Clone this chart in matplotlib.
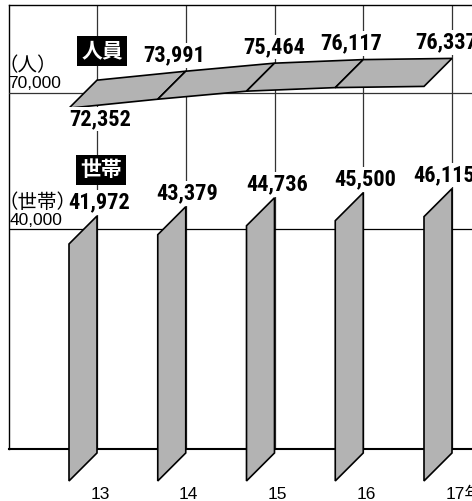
import numpy as np
import matplotlib
matplotlib.use("Agg")
import matplotlib.pyplot as plt
from matplotlib import font_manager as fm
from matplotlib.patches import Polygon

# Data
years = [13, 14, 15, 16, 17]
year_labels = ["13", "14", "15", "16", "17年"]
people = [72352, 73991, 75464, 76117, 76337]
households = [41972, 43379, 44736, 45500, 46115]

# label nudges (px), not data
people_dx = [3, -12, 0, -12, -6]
households_dx = [2, 1, 2.5, 2, -8]

# Figure / frame geometry (pixels, top-left origin)
W, H = 472, 501
L, T, R, B = 9, 5, 500, 449
PX_PER_YEAR = 88.75
X0_PX = 97          # pixel column of the first year
DEPTH = 28          # pseudo-3D depth of bars and band, px
GRAY = "#b3b3b3"
GRID = "#333333"

plt.rcParams["font.family"] = ["Liberation Sans", "Noto Sans CJK JP"]
CJK = ["Noto Sans CJK JP", "DejaVu Sans"]

# narrow bold face for the numbers, whatever is installed
names = {f.name for f in fm.fontManager.ttflist}
if "Liberation Sans Narrow" in names:
    VAL_FONT = dict(family="Liberation Sans Narrow", weight="bold", size=17)
elif "Roboto Condensed" in names:
    VAL_FONT = dict(family="Roboto Condensed", weight="bold", size=16)
else:
    VAL_FONT = dict(family="Roboto", weight="bold", size=14.5)

fig = plt.figure(figsize=(W / 100, H / 100), dpi=100)
ax = fig.add_axes([L / W, (H - B) / H, (R - L) / W, (B - T) / H])
ax_p = ax.twinx()

ax.set_xlim(years[0] - (X0_PX - L) / PX_PER_YEAR, years[0] + (R - X0_PX) / PX_PER_YEAR)


def ylim_for(ref_val, ref_px, px_per_k):
    top = ref_val + (ref_px - T) / px_per_k * 1000
    bot = ref_val - (B - ref_px) / px_per_k * 1000
    return bot, top


ax.set_ylim(*ylim_for(40000, 229, 6.6))     # households
ax_p.set_ylim(*ylim_for(70000, 93, 5.46))   # people

for a in (ax, ax_p):
    a.set_xticks([])
    a.set_yticks([])
    for s in a.spines.values():
        s.set_visible(False)
for side in ("left", "top", "bottom"):
    ax.spines[side].set_visible(True)
    ax.spines[side].set_color("black")
ax.spines["left"].set_linewidth(1.0)
ax.spines["top"].set_linewidth(1.0)
ax.spines["bottom"].set_linewidth(1.5)

# grid
for x in years:
    ax.axvline(x, color=GRID, lw=0.9, zorder=1)
ax.axhline(40000, color="black", lw=0.9, zorder=1)
ax_p.axhline(70000, color=GRID, lw=0.9, zorder=1)


def shifted(a, xs, ys):
    pts = a.transData.transform(np.column_stack([xs, ys]))
    pts[:, 0] -= DEPTH
    pts[:, 1] -= DEPTH
    return a.transData.inverted().transform(pts)


# people: slanted band
for i in range(len(years) - 1):
    top = np.array([[years[i], people[i]], [years[i + 1], people[i + 1]]], dtype=float)
    low = shifted(ax_p, top[:, 0], top[:, 1])
    ax_p.add_patch(Polygon(np.vstack([top, low[::-1]]), closed=True, fc=GRAY,
                           ec="black", lw=1.2, zorder=3))

# households: slanted bars
bar_base = ax.get_ylim()[0] - 600
for x, v in zip(years, households):
    right = np.array([[x, v], [x, bar_base]], dtype=float)
    left = shifted(ax, right[:, 0], right[:, 1])
    ax.add_patch(Polygon(np.vstack([right, left[::-1]]), closed=True, fc=GRAY,
                         ec="black", lw=1.2, zorder=3, clip_on=False))

# value labels
box = dict(fc="white", ec="none", pad=1)
for i, (x, v) in enumerate(zip(years, people)):
    off = (people_dx[i], -39 if i == 0 else 16)
    ax_p.annotate(f"{v:,}", (x, v), xytext=off, textcoords="offset pixels",
                  ha="center", va="center", bbox=box, zorder=6, **VAL_FONT)
for i, (x, v) in enumerate(zip(years, households)):
    ax.annotate(f"{v:,}", (x, v), xytext=(households_dx[i], 13.5), textcoords="offset pixels",
                ha="center", va="center", bbox=box, zorder=6, **VAL_FONT)

# series tags
tag = dict(ha="center", va="center", color="white", weight="bold", size=15, family=CJK,
           bbox=dict(boxstyle="square,pad=0.2", fc="black", ec="none"), zorder=7)
ax_p.annotate("人員", (years[0], 70000), xytext=(5, 42), textcoords="offset pixels", **tag)
ax.annotate("世帯", (years[0], 40000), xytext=(4, 59), textcoords="offset pixels", **tag)

# unit labels
unit = dict(xycoords=("axes fraction", "data"), textcoords="offset pixels", ha="left", va="center",
            annotation_clip=False)
ax_p.annotate("（人）", (0, 70000), xytext=(-10, 27), fontsize=14, family=CJK, **unit)
ax_p.annotate("70,000", (0, 70000), xytext=(-1, 10), fontsize=12.5, **unit)
ax.annotate("（世帯）", (0, 40000), xytext=(-10, 26), fontsize=14, family=CJK, zorder=2, **unit)
ax.annotate("40,000", (0, 40000), xytext=(1, 8), fontsize=12.5, **unit)

# x labels
for x, lab in zip(years, year_labels):
    last = lab == year_labels[-1]
    ax.annotate(lab, (x, 0), xycoords=("data", "axes fraction"),
                xytext=(-6 if last else 3, -50), textcoords="offset pixels",
                ha="left" if last else "center", va="baseline", fontsize=12.5,
                annotation_clip=False)

fig.savefig("out.png", dpi=100)
